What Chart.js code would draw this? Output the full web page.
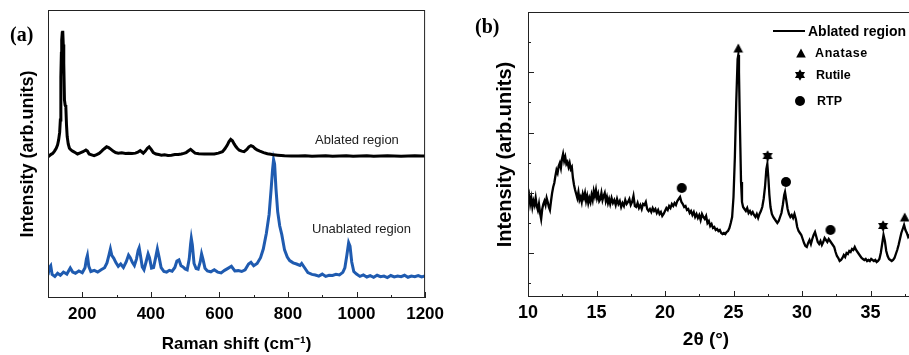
<!DOCTYPE html>
<html>
<head>
<meta charset="utf-8">
<script src="https://cdn.jsdelivr.net/npm/chart.js@4.4.1/dist/chart.umd.min.js"></script>
<style>
    body { margin: 0; background: #fff; }
    #page { position: relative; width: 909px; height: 355px; overflow: hidden; font-family: 'Liberation Sans', Arial, sans-serif; color: #000; }
    #ramanChart { position: absolute; left: 0; top: 0; }
    #xrdChart { position: absolute; left: 455px; top: 0; }
    .note { position: absolute; transform: translateY(-50%); white-space: nowrap; line-height: 1; }
    .panel { font-family: 'Liberation Serif', 'Times New Roman', serif; font-weight: bold; font-size: 20px; }
    .region { font-size: 13px; color: #222; }
    .leg { font-weight: bold; font-size: 12.5px; }
    .legline { position: absolute; height: 2px; background: #000; }
    .mark { position: absolute; }
</style>
</head>
<body>
<div id="page">
    <canvas id="ramanChart" width="450" height="355"></canvas>
    <canvas id="xrdChart" width="500" height="355"></canvas>

    <span class="note panel" style="left:10px; top:34px;">(a)</span>
    <span class="note panel" style="left:475px; top:26px;">(b)</span>
    <span class="note region" style="left:315px; top:139px;">Ablated region</span>
    <span class="note region" style="left:312px; top:228px;">Unablated region</span>

    <div class="legline" style="left:773px; top:30px; width:32px;"></div>
    <span class="note leg" style="left:808px; top:31px; font-size:14px;">Ablated region</span>
    <img id="legAnatase" class="mark" style="left:795px; top:47px;">
    <span class="note leg" style="left:815px; top:53px; letter-spacing:0.6px;">Anatase</span>
    <img id="legRutile" class="mark" style="left:794px; top:69px;">
    <span class="note leg" style="left:816px; top:75px;">Rutile</span>
    <img id="legRtp" class="mark" style="left:794px; top:95px;">
    <span class="note leg" style="left:817px; top:101px;">RTP</span>
</div>

<script>
// Raman spectra (a)
const ramanShiftAblated = [100, 103, 108, 114, 119, 124, 128, 131, 134, 136, 137.5, 139, 140, 141.5, 143, 144.5, 146, 148, 150, 152,
    154, 156, 159, 162.5, 167, 172, 179, 186, 194, 202, 210.5, 215, 220, 227, 234.5, 242, 249, 255, 260, 266,
    271, 277, 283, 290, 297, 305, 315, 326, 335, 345, 355, 362, 369, 374, 378, 384, 390, 395, 401, 407,
    415, 423, 431, 440, 450, 460, 470, 480, 489, 496, 503, 510, 516, 522, 529, 540, 556, 570, 585, 597,
    609, 616, 623, 628, 633, 638, 643, 648, 652, 658, 665, 672, 680, 686, 692, 698, 704, 710, 718, 729,
    740, 750, 758, 770, 790, 810, 830, 850, 870, 890, 910, 930, 950, 970, 990, 1010, 1030, 1050, 1070, 1090,
    1110, 1130, 1150, 1170, 1190, 1200];
const intensityAblated = [49.4, 49.3, 49.8, 50.2, 51.0, 52.0, 53.2, 54.9, 57.5, 61.8, 76.8, 85, 89.6, 92, 92.8, 88, 81.6, 68.8, 67, 66.4,
    60, 56, 53.5, 52.0, 51.4, 51.0, 50.5, 50.0, 50.4, 50.8, 51.4, 51.0, 50.0, 49.7, 49.4, 49.8, 50.2, 50.8, 51.4, 52.0,
    52.5, 52.2, 51.7, 51.0, 50.5, 50.3, 50.4, 50.2, 50.3, 50.2, 50.3, 50.6, 51.2, 50.7, 50.3, 51.0, 52.0, 52.5, 51.6, 50.5,
    50.0, 49.8, 49.6, 49.7, 49.5, 49.6, 49.8, 49.8, 50.0, 50.2, 50.5, 51.1, 51.6, 51.0, 50.3, 50.1, 50.0, 50.0, 50.0, 50.3,
    50.8, 51.8, 53.1, 54.3, 55.1, 54.6, 53.5, 52.6, 52.0, 51.3, 51.0, 50.8, 51.6, 52.5, 52.9, 52.6, 51.9, 51.4, 51.0, 50.5,
    50.1, 49.9, 49.7, 49.6, 49.4, 49.3, 49.3, 49.4, 49.2, 49.3, 49.4, 49.2, 49.3, 49.4, 49.2, 49.3, 49.4, 49.2, 49.3, 49.4,
    49.3, 49.2, 49.3, 49.4, 49.3, 49.3];

const ramanShiftUnablated = [100, 104, 108, 112, 120, 128, 136, 145, 155, 165, 172, 180, 190, 200, 208, 212, 215, 219, 225, 235,
    245, 255, 265, 272, 278, 282, 286, 292, 298, 305, 312, 320, 328, 335, 340, 346, 352, 358, 363, 366,
    370, 375, 380, 386, 392, 396, 402, 408, 414, 419, 424, 430, 438, 446, 454, 462, 470, 476, 482, 488,
    494, 500, 506, 512, 516, 518, 521, 526, 532, 538, 544, 548, 552, 558, 565, 575, 585, 595, 605, 615,
    625, 635, 645, 655, 665, 675, 685, 692, 700, 710, 720, 728, 737, 745, 751, 755, 758, 761, 765, 770,
    776, 782, 790, 798, 805, 815, 825, 835, 840, 848, 858, 870, 880, 890, 900, 910, 920, 930, 940, 950,
    960, 966, 972, 977, 981, 986, 992, 1000, 1010, 1020, 1030, 1040, 1050, 1060, 1070, 1080, 1090, 1100, 1110, 1120,
    1130, 1140, 1150, 1160, 1170, 1180, 1190, 1200];
const intensityUnablated = [8.0, 10.5, 11.2, 8.2, 7.5, 8.6, 7.9, 9.0, 8.3, 10.4, 9.0, 8.6, 9.4, 8.8, 10.5, 13.5, 14.8, 11.0, 9.2, 9.6,
    9.0, 9.8, 10.5, 12.2, 15.0, 17.0, 14.8, 13.8, 12.3, 11.0, 11.8, 10.6, 12.5, 14.9, 14.0, 12.4, 11.3, 13.5, 16.5, 17.4,
    14.6, 10.8, 9.8, 12.5, 15.3, 14.0, 10.4, 10.6, 14.0, 17.0, 14.2, 10.5, 9.2, 9.0, 9.6, 9.3, 10.6, 12.8, 13.2, 11.2,
    10.8, 10.1, 9.8, 13.6, 18.8, 20.7, 18.5, 12.0, 10.2, 10.0, 12.5, 15.3, 13.5, 10.3, 9.4, 9.1, 9.8, 9.0, 8.7, 9.6,
    10.3, 11.0, 9.4, 9.5, 9.2, 9.8, 11.8, 12.4, 11.2, 12.0, 14.0, 17.0, 22.5, 29.0, 38.0, 44.5, 48.0, 46.5, 38.0, 30.0,
    25.0, 22.0, 16.7, 14.2, 13.0, 12.2, 11.8, 11.3, 12.0, 10.6, 8.8, 8.2, 8.0, 7.6, 8.3, 7.5, 7.9, 7.8, 8.2, 8.0,
    8.9, 10.5, 15.0, 19.2, 18.0, 12.5, 9.2, 8.3, 7.5, 8.0, 7.3, 7.8, 7.2, 7.9, 7.4, 7.6, 7.1, 7.8, 7.3, 7.6,
    7.4, 7.9, 7.2, 7.6, 7.4, 7.8, 7.3, 7.7];

// XRD pattern (b)
const twoTheta = [10.00, 10.08, 10.16, 10.24, 10.32, 10.40, 10.48, 10.56, 10.64, 10.72, 10.80, 10.88, 10.96, 11.04, 11.12, 11.20, 11.28, 11.36, 11.44, 11.52,
    11.60, 11.68, 11.76, 11.84, 11.92, 12.00, 12.08, 12.16, 12.24, 12.32, 12.40, 12.48, 12.56, 12.64, 12.72, 12.80, 12.88, 12.96, 13.04, 13.12,
    13.20, 13.28, 13.36, 13.44, 13.52, 13.60, 13.68, 13.76, 13.84, 13.92, 14.00, 14.08, 14.16, 14.24, 14.32, 14.40, 14.48, 14.56, 14.64, 14.72,
    14.80, 14.88, 14.96, 15.04, 15.12, 15.20, 15.28, 15.36, 15.44, 15.52, 15.60, 15.68, 15.76, 15.84, 15.92, 16.00, 16.10, 16.20, 16.30, 16.40,
    16.50, 16.60, 16.70, 16.80, 16.90, 17.00, 17.10, 17.20, 17.30, 17.40, 17.50, 17.60, 17.70, 17.80, 17.90, 18.00, 18.10, 18.20, 18.30, 18.40,
    18.50, 18.60, 18.70, 18.80, 18.90, 19.00, 19.10, 19.20, 19.30, 19.40, 19.50, 19.60, 19.70, 19.80, 19.90, 20.00, 20.10, 20.20, 20.30, 20.40,
    20.50, 20.60, 20.70, 20.80, 20.90, 21.00, 21.10, 21.20, 21.30, 21.40, 21.50, 21.60, 21.70, 21.80, 21.90, 22.00, 22.10, 22.20, 22.30, 22.40,
    22.50, 22.60, 22.70, 22.80, 22.90, 23.00, 23.10, 23.20, 23.30, 23.40, 23.50, 23.60, 23.70, 23.80, 23.90, 24.00, 24.10, 24.20, 24.30, 24.40,
    24.50, 24.60, 24.70, 24.80, 24.90, 25.00, 25.10, 25.20, 25.30, 25.35, 25.40, 25.45, 25.50, 25.55, 25.62, 25.70, 25.80, 25.90, 26.00, 26.10,
    26.20, 26.30, 26.40, 26.50, 26.60, 26.70, 26.80, 26.90, 27.00, 27.10, 27.20, 27.30, 27.40, 27.47, 27.55, 27.62, 27.70, 27.80, 27.90, 28.00,
    28.10, 28.20, 28.30, 28.40, 28.50, 28.60, 28.70, 28.76, 28.85, 28.95, 29.05, 29.15, 29.25, 29.35, 29.45, 29.55, 29.65, 29.75, 29.85, 29.95,
    30.05, 30.15, 30.25, 30.35, 30.45, 30.55, 30.65, 30.75, 30.85, 30.95, 31.05, 31.15, 31.25, 31.35, 31.45, 31.55, 31.65, 31.75, 31.85, 31.95,
    32.05, 32.15, 32.25, 32.35, 32.45, 32.55, 32.65, 32.75, 32.85, 32.95, 33.05, 33.15, 33.25, 33.35, 33.45, 33.55, 33.65, 33.75, 33.85, 33.95,
    34.05, 34.15, 34.25, 34.35, 34.45, 34.55, 34.65, 34.75, 34.85, 34.95, 35.05, 35.15, 35.25, 35.35, 35.45, 35.55, 35.65, 35.75, 35.85, 35.95,
    36.05, 36.15, 36.25, 36.35, 36.45, 36.55, 36.65, 36.75, 36.85, 36.95, 37.05, 37.15, 37.25, 37.35, 37.45, 37.55, 37.65, 37.75, 37.85, 37.95,
    38.05, 38.20, 38.40];
const xrdIntensity = [97, 102, 93, 99, 90, 96, 92, 99, 91, 87, 93, 84, 78, 88, 93, 96, 92, 99, 95, 90,
    87, 96, 104, 110, 114, 121, 127, 124, 131, 134, 129, 138, 143, 136, 140, 133, 135, 130, 134, 128,
    130, 119, 112, 107, 103, 99, 105, 97, 100, 95, 103, 99, 104, 96, 101, 94, 99, 95, 102, 97,
    106, 101, 107, 99, 103, 96, 98, 104, 97, 101, 104, 96, 100, 94, 98, 93, 99, 94, 97, 92,
    98, 93, 96, 90, 94, 91, 97, 93, 95, 98, 92, 95, 101, 91, 90, 94, 89, 92, 88, 93,
    92, 95, 88, 86, 88, 85, 89, 86, 88, 84, 87, 83, 85, 81, 83, 86, 89, 87, 91, 89,
    93, 91, 94, 92, 96, 98, 100, 95, 93, 90, 91, 87, 88, 84, 86, 82, 85, 80, 83, 79,
    82, 77, 83, 80, 78, 81, 74, 76, 71, 73, 69, 70, 67, 68, 66, 67, 64, 63, 64, 63,
    65, 66, 69, 74, 80, 100, 140, 195, 238, 242, 225, 185, 150, 115, 95, 90, 88, 86, 89, 84,
    86, 83, 85, 82, 80, 83, 79, 83, 86, 90, 98, 110, 128, 133, 118, 102, 90, 83, 80, 78,
    76, 74, 76, 80, 84, 92, 102, 105, 97, 88, 83, 80, 82, 79, 83, 78, 70, 66, 64, 62,
    58, 54, 51, 50, 54, 57, 53, 58, 62, 65, 60, 55, 53, 56, 52, 55, 59, 57, 55, 58,
    56, 54, 52, 50, 45, 41, 39, 36, 37, 39, 42, 40, 44, 43, 46, 45, 48, 47, 50, 47,
    45, 43, 41, 39, 38, 37, 38, 36, 37, 36, 38, 37, 36, 37, 35, 36, 38, 44, 53, 62,
    56, 46, 41, 38, 37, 36, 37, 39, 43, 47, 52, 58, 64, 68, 72, 67, 64, 60, 62, 58,
    55, 53, 50];

// phase markers placed above the peaks
const anataseAngle = [25.35, 37.5];
const anataseLevel = [249, 80];
const rutileAngle = [27.49, 35.92];
const rutileLevel = [141, 71];
const rtpAngle = [21.22, 28.83, 32.08];
const rtpLevel = [109, 115, 67];

const xrdYTicks = [14, 44, 74, 104, 134, 164, 195, 225, 255];

const FONT = "'Liberation Sans', Arial, sans-serif";
Chart.defaults.font.family = FONT;
Chart.defaults.color = '#000';

function toPoints(xs, ys) {
    return xs.map((x, i) => ({ x: x, y: ys[i] }));
}

// small filled symbols used for the phase markers and the legend
function markerCanvas(kind) {
    const c = document.createElement('canvas');
    c.width = 12;
    c.height = 12;
    const g = c.getContext('2d');
    g.fillStyle = '#000';
    g.beginPath();
    if (kind === 'triangle') {
        g.moveTo(6, 1.5);
        g.lineTo(10.8, 10.5);
        g.lineTo(1.2, 10.5);
        g.closePath();
    } else if (kind === 'circle') {
        g.arc(6, 6, 5, 0, Math.PI * 2);
    } else {
        [-Math.PI / 2, Math.PI / 2].forEach(start => {
            for (let k = 0; k < 3; k++) {
                const ang = start + k * 2 * Math.PI / 3;
                const px = 6 + 5.8 * Math.cos(ang);
                const py = 6 + 5.8 * Math.sin(ang);
                if (k === 0) g.moveTo(px, py); else g.lineTo(px, py);
            }
            g.closePath();
        });
    }
    g.fill();
    return c;
}

// box around the plot area plus inward tick marks
function frameWithInnerTicks(axes) {
    return {
        id: 'frameTicks',
        afterDraw(chart) {
            const { ctx, chartArea: a } = chart;
            ctx.save();
            ctx.strokeStyle = '#222';
            ctx.lineWidth = 1;
            ctx.strokeRect(a.left + 0.5, a.top + 0.5, a.right - a.left - 1, a.bottom - a.top - 1);
            axes.forEach(ax => {
                const scale = chart.scales[ax.id];
                scale.ticks.forEach((t, i) => {
                    const len = ax.isMajor(t.value, i) ? ax.major : ax.minor;
                    const p = Math.round(scale.getPixelForValue(t.value)) + 0.5;
                    ctx.beginPath();
                    if (scale.isHorizontal()) {
                        ctx.moveTo(p, a.bottom);
                        ctx.lineTo(p, a.bottom - len);
                    } else {
                        ctx.moveTo(a.left, p);
                        ctx.lineTo(a.left + len, p);
                    }
                    ctx.stroke();
                });
            });
            ctx.restore();
        }
    };
}

document.addEventListener('DOMContentLoaded', function() {
    const triangle = markerCanvas('triangle');
    const star = markerCanvas('star');
    const circle = markerCanvas('circle');
    document.getElementById('legAnatase').src = triangle.toDataURL();
    document.getElementById('legRutile').src = star.toDataURL();
    document.getElementById('legRtp').src = circle.toDataURL();

    new Chart(document.getElementById('ramanChart'), {
        type: 'line',
        data: {
            datasets: [{
                label: 'Ablated region',
                data: toPoints(ramanShiftAblated, intensityAblated),
                borderColor: '#000',
                borderWidth: 3,
                pointRadius: 0,
                tension: 0
            }, {
                label: 'Unablated region',
                data: toPoints(ramanShiftUnablated, intensityUnablated),
                borderColor: '#1f5bb0',
                borderWidth: 3,
                pointRadius: 0,
                tension: 0
            }]
        },
        options: {
            responsive: false,
            animation: false,
            layout: { padding: { top: 10, right: 20, left: 0, bottom: 0 } },
            plugins: { legend: { display: false }, tooltip: { enabled: false } },
            scales: {
                x: {
                    type: 'linear',
                    min: 100,
                    max: 1200,
                    grid: { display: false, drawTicks: false },
                    border: { display: false },
                    ticks: {
                        stepSize: 100,
                        autoSkip: false,
                        maxRotation: 0,
                        padding: 6,
                        font: { size: 17, weight: 'bold' },
                        callback: v => (v % 200 === 0 ? v : '')
                    },
                    title: { display: true, text: 'Raman shift (cm⁻¹)', font: { size: 17, weight: 'bold' }, padding: 0 },
                    afterFit: s => { s.height = 57; }
                },
                y: {
                    min: 0,
                    max: 100,
                    grid: { display: false, drawTicks: false },
                    border: { display: false },
                    ticks: { display: false },
                    title: { display: true, text: 'Intensity (arb.units)', font: { size: 18, weight: 'bold' }, padding: { top: 17, bottom: 0 } },
                    afterFit: s => { s.width = 48; }
                }
            }
        },
        plugins: [frameWithInnerTicks([
            { id: 'x', major: 6, minor: 3, isMajor: v => v % 200 === 0 }
        ])]
    });

    new Chart(document.getElementById('xrdChart'), {
        type: 'line',
        data: {
            datasets: [{
                label: 'Ablated region',
                data: toPoints(twoTheta, xrdIntensity),
                borderColor: '#000',
                borderWidth: 2.3,
                pointRadius: 0,
                tension: 0,
                order: 1
            }, {
                type: 'scatter',
                label: 'Anatase',
                data: toPoints(anataseAngle, anataseLevel),
                pointStyle: triangle,
                order: 0
            }, {
                type: 'scatter',
                label: 'Rutile',
                data: toPoints(rutileAngle, rutileLevel),
                pointStyle: star,
                order: 0
            }, {
                type: 'scatter',
                label: 'RTP',
                data: toPoints(rtpAngle, rtpLevel),
                pointStyle: circle,
                order: 0
            }]
        },
        options: {
            responsive: false,
            animation: false,
            layout: { padding: { top: 12, right: 16, left: 18, bottom: 0 } },
            plugins: {
                legend: { display: false },
                tooltip: { enabled: false },
                title: {
                    display: true,
                    position: 'bottom',
                    text: '2θ (°)',
                    color: '#000',
                    font: { size: 19, weight: 'bold' },
                    padding: { top: 0, bottom: 4 }
                }
            },
            scales: {
                x: {
                    type: 'linear',
                    min: 10,
                    max: 40,
                    grid: { display: false, drawTicks: false },
                    border: { display: false },
                    ticks: {
                        stepSize: 2.5,
                        autoSkip: false,
                        maxRotation: 0,
                        padding: 5,
                        font: { size: 18, weight: 'bold' },
                        callback: v => (v % 5 === 0 ? v : '')
                    },
                    afterFit: s => { s.height = 31.2; }
                },
                y: {
                    min: 0,
                    max: 285,
                    grid: { display: false, drawTicks: false },
                    border: { display: false },
                    ticks: { display: false },
                    afterBuildTicks: s => { s.ticks = xrdYTicks.map(v => ({ value: v })); },
                    title: { display: true, text: 'Intensity (arb.units)', font: { size: 20, weight: 'bold' }, padding: { top: 20, bottom: 0 } },
                    afterFit: s => { s.width = 55; }
                }
            }
        },
        plugins: [frameWithInnerTicks([
            { id: 'x', major: 6, minor: 3, isMajor: v => v % 5 === 0 },
            { id: 'y', major: 6, minor: 3, isMajor: (v, i) => i % 2 === 1 }
        ])]
    });
});
</script>
</body>
</html>
